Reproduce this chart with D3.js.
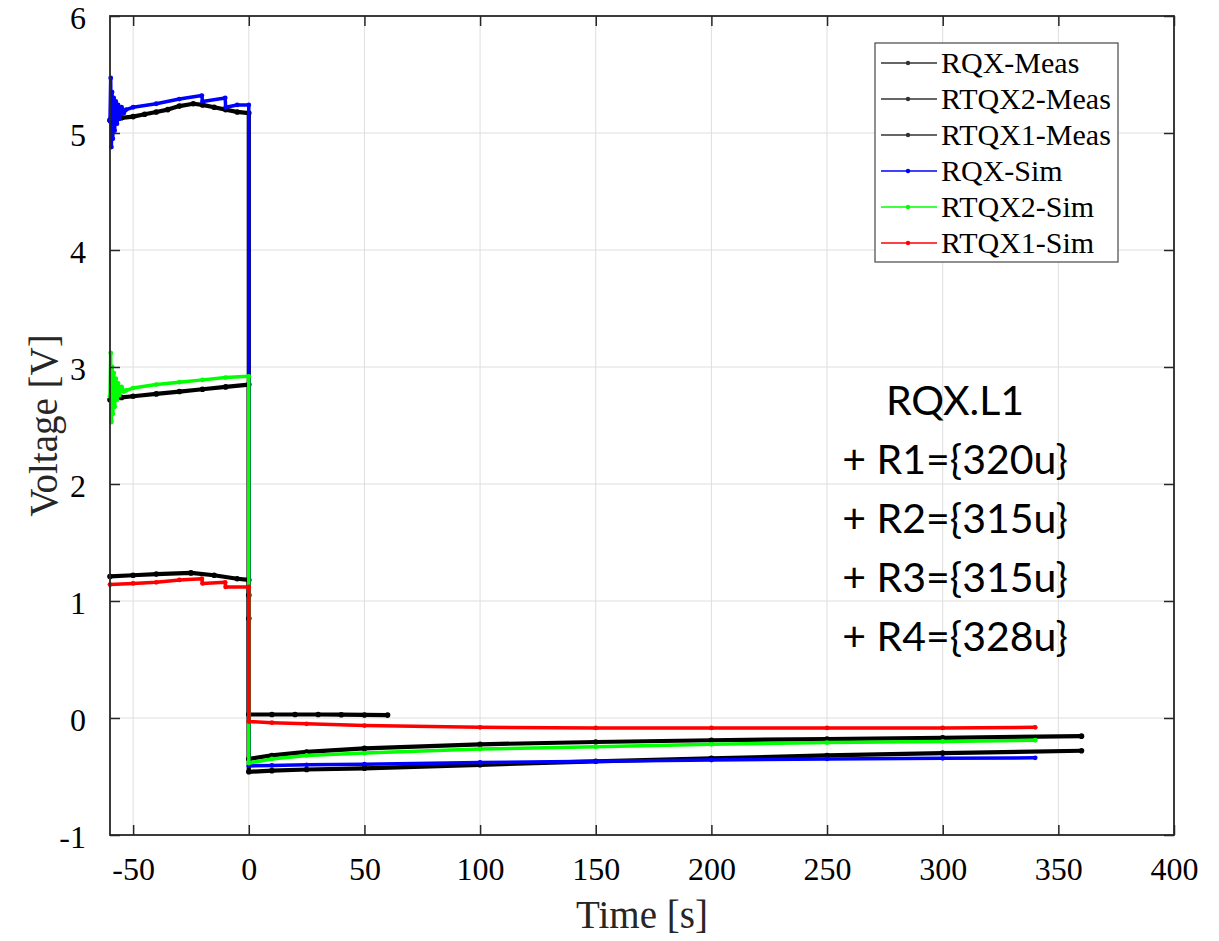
<!DOCTYPE html>
<html>
<head>
<meta charset="utf-8">
<script src="https://cdn.jsdelivr.net/npm/d3@7"></script>
<style>
  html, body { margin: 0; padding: 0; background: #fff; }
  svg { display: block; }
</style>
</head>
<body>
<svg id="chart" width="1219" height="941"></svg>
<script>
// ---- Data (time [s], voltage [V]) ----
const xTicks = [-50, 0, 50, 100, 150, 200, 250, 300, 350, 400];
const yTicks = [-1, 0, 1, 2, 3, 4, 5, 6];

const rqxMeas = [[-60,5.11],[-57,5.12],[-55,5.13],[-50,5.14],[-45,5.16],[-40,5.18],[-35,5.20],[-30,5.23],[-24,5.25],[-20,5.24],[-15,5.22],[-10,5.20],[-5,5.18],[0,5.17],
  [0,-0.46],[10,-0.45],[25,-0.44],[50,-0.43],[100,-0.40],[150,-0.37],[200,-0.345],[250,-0.32],[300,-0.30],[360,-0.28]];
const rtqx2Meas = [[-60,2.72],[-55,2.74],[-50,2.75],[-40,2.77],[-30,2.79],[-20,2.81],[-10,2.83],[0,2.85],
  [0,-0.35],[10,-0.32],[25,-0.29],[50,-0.26],[100,-0.225],[150,-0.205],[200,-0.19],[250,-0.18],[300,-0.17],[360,-0.155]];
const rtqx1Meas = [[-60,1.21],[-50,1.22],[-40,1.23],[-25,1.24],[-15,1.22],[-5,1.19],[0,1.18],
  [0,1.05],[0,0.85],[0,0.03],[10,0.03],[20,0.03],[30,0.03],[40,0.028],[50,0.026],[60,0.025]];
const rqxSim = [[-60,5.10],[-59.7,5.47],[-59.4,4.88],[-59.1,5.35],[-58.8,4.95],[-58.4,5.30],[-58,5.02],[-57.5,5.27],[-57,5.08],[-56.5,5.24],[-56,5.12],[-55,5.22],[-54,5.17],[-53,5.20],[-50,5.22],[-40,5.25],[-30,5.29],[-20.3,5.32],[-20,5.27],[-10.2,5.30],[-10,5.22],[-5,5.24],[0,5.24],
  [0,-0.41],[10,-0.405],[25,-0.40],[50,-0.395],[100,-0.38],[150,-0.37],[200,-0.36],[250,-0.35],[300,-0.345],[340,-0.34]];
const rtqx2Sim = [[-60,2.75],[-59.7,3.12],[-59.4,2.53],[-59.1,3.00],[-58.8,2.60],[-58.4,2.95],[-58,2.66],[-57.5,2.90],[-57,2.72],[-56.5,2.86],[-56,2.76],[-55,2.83],[-54,2.79],[-53,2.80],[-50,2.82],[-40,2.85],[-30,2.87],[-20,2.89],[-10,2.91],[0,2.92],
  [0,-0.385],[10,-0.35],[25,-0.32],[50,-0.30],[100,-0.265],[150,-0.245],[200,-0.225],[250,-0.21],[300,-0.20],[340,-0.19]];
const rtqx1Sim = [[-60,1.14],[-50,1.15],[-40,1.16],[-30,1.18],[-20.3,1.19],[-20,1.15],[-10.2,1.16],[-10,1.12],[0,1.12],
  [0,-0.03],[10,-0.04],[25,-0.05],[50,-0.065],[100,-0.08],[150,-0.085],[200,-0.085],[250,-0.085],[300,-0.085],[340,-0.08]];

const seriesNames = ["RQX-Meas","RTQX2-Meas","RTQX1-Meas","RQX-Sim","RTQX2-Sim","RTQX1-Sim"];
const seriesColors = ["#000000","#000000","#000000","#0000ff","#00ff00","#ff0000"];
const seriesData = [rqxMeas, rtqx2Meas, rtqx1Meas, rqxSim, rtqx2Sim, rtqx1Sim];

const annotationLines = ["RQX.L1","+ R1={320u}","+ R2={315u}","+ R3={315u}","+ R4={328u}"];

// ---- Layout ----
const svg = d3.select("#chart");
const L = 110, R = 1174, T = 16, B = 835;
const x = d3.scaleLinear().domain([-60, 400]).range([L, R]);
const y = d3.scaleLinear().domain([-1, 6]).range([B, T]);
const axisColor = "#262626";
const serif = "'Liberation Serif', 'Times New Roman', serif";

svg.append("rect").attr("width", 1219).attr("height", 941).attr("fill", "#fff");

// grid
const grid = svg.append("g");
grid.selectAll("line.gx").data(xTicks.filter(d => d > -60 && d < 400)).join("line")
  .attr("x1", d => x(d)).attr("x2", d => x(d)).attr("y1", T).attr("y2", B)
  .attr("stroke", "#dedede").attr("stroke-width", 1);
grid.selectAll("line.gy").data(yTicks.filter(d => d > -1 && d < 6)).join("line")
  .attr("y1", d => y(d)).attr("y2", d => y(d)).attr("x1", L).attr("x2", R)
  .attr("stroke", "#dedede").attr("stroke-width", 1);

// data lines
const line = d3.line().x(d => x(d[0])).y(d => y(d[1]));
const plot = svg.append("g");
seriesData.forEach((data, i) => {
  const isMeas = seriesColors[i] === "#000000";
  plot.append("path").datum(data).attr("d", line)
    .attr("fill", "none").attr("stroke", seriesColors[i]).attr("stroke-width", isMeas ? 4.2 : 3.5)
    .attr("stroke-linejoin", "round");
  plot.selectAll(null).data(data).join("circle")
    .attr("cx", d => x(d[0])).attr("cy", d => y(d[1])).attr("r", isMeas ? 2.8 : 2.4)
    .attr("fill", seriesColors[i]);
});

// axes with D3 (inward ticks)
const tickLen = 10;
const fmt = d => d < 0 ? "-" + Math.abs(d) : String(d);
const xAxisB = d3.axisBottom(x).tickValues(xTicks).tickSize(-tickLen).tickFormat(fmt).tickPadding(22);
const xAxisT = d3.axisTop(x).tickValues(xTicks).tickSize(-tickLen).tickFormat("");
const yAxisL = d3.axisLeft(y).tickValues(yTicks).tickSize(-tickLen).tickFormat(fmt).tickPadding(24);
const yAxisR = d3.axisRight(y).tickValues(yTicks).tickSize(-tickLen).tickFormat("");

function styleAxis(g) {
  g.select(".domain").remove();
  g.selectAll(".tick line").attr("stroke", axisColor).attr("stroke-width", 1.5);
  g.selectAll(".tick text").attr("fill", "#000").style("font-family", serif).style("font-size", "32px");
}
svg.append("g").attr("transform", `translate(0,${B})`).call(xAxisB).call(styleAxis);
svg.append("g").attr("transform", `translate(0,${T})`).call(xAxisT).call(styleAxis);
svg.append("g").attr("transform", `translate(${L},0)`).call(yAxisL).call(styleAxis)
  .selectAll(".tick text").attr("dy", "0.38em");
svg.append("g").attr("transform", `translate(${R},0)`).call(yAxisR).call(styleAxis);

// box
svg.append("rect").attr("x", L).attr("y", T).attr("width", R - L).attr("height", B - T)
  .attr("fill", "none").attr("stroke", axisColor).attr("stroke-width", 1.8);

// axis labels
svg.append("text").attr("x", (L + R) / 2).attr("y", 928).attr("text-anchor", "middle")
  .style("font-family", serif).style("font-size", "39px").attr("fill", "#262626").text("Time [s]");
svg.append("text").attr("transform", `translate(57,${(T + B) / 2}) rotate(-90)`).attr("text-anchor", "middle")
  .style("font-family", serif).style("font-size", "39px").attr("fill", "#262626").text("Voltage [V]");

// legend
const lg = svg.append("g");
lg.append("rect").attr("x", 875).attr("y", 43).attr("width", 243).attr("height", 219)
  .attr("fill", "#fff").attr("stroke", "#555").attr("stroke-width", 1.3);
seriesNames.forEach((name, i) => {
  const cy = 63 + i * 36;
  const c = seriesColors[i] === "#000000" ? "#333" : seriesColors[i];
  lg.append("line").attr("x1", 881).attr("x2", 937).attr("y1", cy).attr("y2", cy)
    .attr("stroke", c).attr("stroke-width", 1.5);
  lg.append("circle").attr("cx", 908).attr("cy", cy).attr("r", 2.2).attr("fill", c);
  lg.append("text").attr("x", 941).attr("y", cy).attr("dy", "0.34em")
    .style("font-family", serif).style("font-size", "30px").attr("fill", "#000").text(name);
});

// annotation
const ann = svg.append("g");
annotationLines.forEach((t, i) => {
  ann.append("text").attr("x", 955).attr("y", 415 + i * 59).attr("text-anchor", "middle")
    .style("font-family", "Lato, 'Open Sans', sans-serif").style("font-size", "41px").attr("fill", "#000").text(t);
});
</script>
</body>
</html>
